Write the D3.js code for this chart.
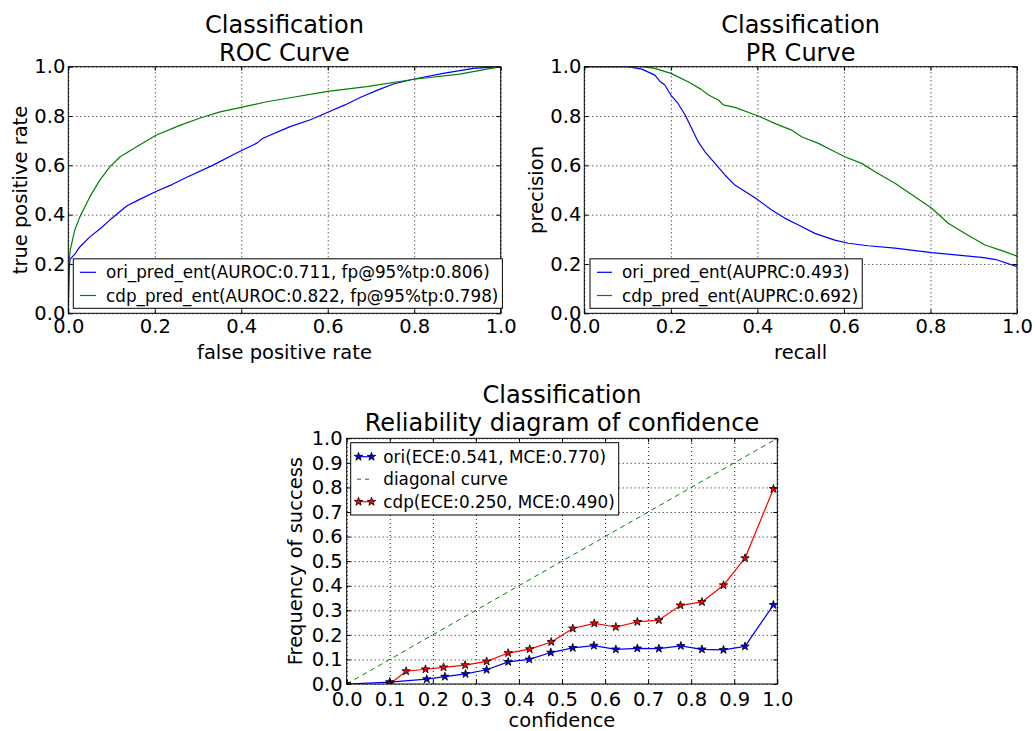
<!DOCTYPE html>
<html>
<head>
<meta charset="utf-8">
<script src="https://cdn.jsdelivr.net/npm/d3@7"></script>
<style>
  html, body { margin: 0; padding: 0; background: #fff; }
  svg { display: block; font-family: "DejaVu Sans", sans-serif; }
</style>
</head>
<body>
<svg id="chart" width="1035" height="731"></svg>
<script>
// ---------------- DATA ----------------
// ROC curve
const rocOriFpr = [0, 0.002, 0.004, 0.015, 0.027, 0.05, 0.075, 0.096, 0.135, 0.165, 0.204, 0.24, 0.274, 0.335, 0.389, 0.436, 0.45, 0.513, 0.56, 0.60, 0.64, 0.675, 0.715, 0.752, 0.80, 0.867, 0.937, 1.0];
const rocOriTpr = [0, 0.17, 0.219, 0.24, 0.27, 0.31, 0.345, 0.378, 0.435, 0.462, 0.495, 0.522, 0.552, 0.601, 0.65, 0.69, 0.71, 0.757, 0.785, 0.815, 0.845, 0.875, 0.905, 0.93, 0.95, 0.973, 0.993, 1.0];
const rocCdpFpr = [0, 0.001, 0.005, 0.015, 0.027, 0.05, 0.073, 0.096, 0.12, 0.158, 0.204, 0.258, 0.305, 0.351, 0.413, 0.459, 0.513, 0.60, 0.69, 0.80, 0.905, 1.0];
const rocCdpTpr = [0, 0.2, 0.26, 0.338, 0.392, 0.473, 0.54, 0.594, 0.635, 0.675, 0.723, 0.762, 0.792, 0.817, 0.84, 0.858, 0.874, 0.9, 0.919, 0.949, 0.97, 1.0];
const rocLabels = ["ori_pred_ent(AUROC:0.711, fp@95%tp:0.806)", "cdp_pred_ent(AUROC:0.822, fp@95%tp:0.798)"];

// PR curve
const prOriRecall = [0, 0.10, 0.133, 0.163, 0.175, 0.186, 0.2, 0.217, 0.233, 0.248, 0.263, 0.279, 0.302, 0.325, 0.348, 0.379, 0.402, 0.433, 0.464, 0.495, 0.533, 0.579, 0.61, 0.656, 0.718, 0.803, 0.918, 0.949, 1.0];
const prOriPrecision = [1, 1.0, 0.99, 0.966, 0.94, 0.926, 0.885, 0.85, 0.804, 0.75, 0.696, 0.655, 0.608, 0.561, 0.52, 0.486, 0.459, 0.419, 0.385, 0.358, 0.324, 0.297, 0.284, 0.274, 0.264, 0.246, 0.227, 0.219, 0.189];
const prCdpRecall = [0, 0.133, 0.163, 0.2, 0.24, 0.27, 0.287, 0.31, 0.321, 0.348, 0.402, 0.44, 0.479, 0.502, 0.541, 0.579, 0.602, 0.641, 0.672, 0.718, 0.764, 0.803, 0.841, 0.88, 0.926, 0.965, 1.0];
const prCdpPrecision = [1, 1, 0.993, 0.973, 0.939, 0.908, 0.885, 0.865, 0.845, 0.835, 0.8, 0.77, 0.743, 0.716, 0.689, 0.655, 0.635, 0.608, 0.574, 0.527, 0.473, 0.426, 0.365, 0.324, 0.277, 0.254, 0.232];
const prLabels = ["ori_pred_ent(AUPRC:0.493)", "cdp_pred_ent(AUPRC:0.692)"];

// Reliability diagram
const relOriConf = [0.0, 0.1, 0.186, 0.228, 0.276, 0.325, 0.375, 0.424, 0.474, 0.525, 0.574, 0.625, 0.675, 0.725, 0.776, 0.825, 0.875, 0.925, 0.991];
const relOriFreq = [0.0, 0.008, 0.02, 0.03, 0.041, 0.058, 0.09, 0.1, 0.128, 0.147, 0.156, 0.141, 0.145, 0.144, 0.155, 0.141, 0.139, 0.153, 0.322];
const relCdpConf = [0.1, 0.138, 0.183, 0.225, 0.275, 0.325, 0.375, 0.425, 0.475, 0.525, 0.575, 0.625, 0.675, 0.725, 0.775, 0.825, 0.875, 0.925, 0.991];
const relCdpFreq = [0.0, 0.052, 0.06, 0.068, 0.077, 0.092, 0.126, 0.142, 0.171, 0.226, 0.247, 0.232, 0.253, 0.26, 0.32, 0.334, 0.402, 0.512, 0.794];
const diagonal = [0, 1];
const relLabels = ["ori(ECE:0.541, MCE:0.770)", "diagonal curve", "cdp(ECE:0.250, MCE:0.490)"];

const ticks02 = [0, 0.2, 0.4, 0.6, 0.8, 1.0];
const ticks01 = [0, 0.1, 0.2, 0.3, 0.4, 0.5, 0.6, 0.7, 0.8, 0.9, 1.0];

// ---------------- DRAW ----------------
const svg = d3.select("#chart");
const FONT_TICK = 19.5, FONT_LABEL = 19.5, FONT_TITLE = 24, FONT_LEG = 16.8;
const BLUE = "#0000ff", GREEN = "#008000", RED = "#ff0000";
let clipId = 0;

function makePanel(o) {
  const g = svg.append("g").attr("transform", `translate(${o.left},${o.top})`);
  const x = d3.scaleLinear().domain([0, 1]).range([0, o.w]);
  const y = d3.scaleLinear().domain([0, 1]).range([o.h, 0]);

  // grid
  const gx = g.append("g").attr("transform", `translate(0,${o.h})`)
    .call(d3.axisBottom(x).tickValues(o.ticks).tickSize(-o.h).tickFormat(""));
  const gy = g.append("g")
    .call(d3.axisLeft(y).tickValues(o.ticks).tickSize(-o.w).tickFormat(""));
  [gx, gy].forEach(a => {
    a.select(".domain").remove();
    a.selectAll("line").attr("stroke", "#000").attr("stroke-width", 0.9).attr("stroke-dasharray", "1,3");
  });

  // clip
  const cid = "clip" + (clipId++);
  g.append("clipPath").attr("id", cid).append("rect").attr("width", o.w).attr("height", o.h);
  const plot = g.append("g").attr("clip-path", `url(#${cid})`);

  // frame
  g.append("rect").attr("width", o.w).attr("height", o.h).attr("fill", "none").attr("stroke", "#000").attr("stroke-width", 1);

  // axes (inward ticks)
  const fmt = d3.format(".1f");
  const ax = g.append("g").attr("transform", `translate(0,${o.h})`)
    .call(d3.axisBottom(x).tickValues(o.ticks).tickFormat(fmt).tickSizeInner(-4).tickSizeOuter(0).tickPadding(o.xpad));
  const ay = g.append("g")
    .call(d3.axisLeft(y).tickValues(o.ticks).tickFormat(fmt).tickSizeInner(-4).tickSizeOuter(0).tickPadding(o.ypad));
  const axT = g.append("g")
    .call(d3.axisTop(x).tickValues(o.ticks).tickFormat("").tickSizeInner(-4).tickSizeOuter(0));
  const ayR = g.append("g").attr("transform", `translate(${o.w},0)`)
    .call(d3.axisRight(y).tickValues(o.ticks).tickFormat("").tickSizeInner(-4).tickSizeOuter(0));
  [ax, ay, axT, ayR].forEach(a => {
    a.select(".domain").remove();
    a.selectAll("line").attr("stroke", "#000");
    a.selectAll("text").attr("font-size", FONT_TICK).attr("font-family", "DejaVu Sans").attr("fill", "#000");
  });

  // titles
  const t = g.append("text").attr("text-anchor", "middle").attr("font-size", FONT_TITLE).attr("fill", "#000");
  t.append("tspan").attr("x", o.w / 2).attr("y", o.t1 - o.top).text("Classification");
  t.append("tspan").attr("x", o.w / 2).attr("y", o.t2 - o.top).text(o.title);

  // axis labels
  g.append("text").attr("text-anchor", "middle").attr("font-size", FONT_LABEL)
    .attr("x", o.w / 2).attr("y", o.xlabY - o.top).text(o.xlabel);
  g.append("text").attr("text-anchor", "middle").attr("font-size", FONT_LABEL)
    .attr("transform", `translate(${o.ylabX - o.left},${o.h / 2}) rotate(-90)`).text(o.ylabel);

  return { g, plot, x, y };
}

function drawLine(p, xs, ys, color, width, dash) {
  const pts = xs.map((v, i) => [v, ys[i]]);
  const path = p.plot.append("path").datum(pts)
    .attr("fill", "none").attr("stroke", color).attr("stroke-width", width)
    .attr("stroke-linejoin", "round")
    .attr("d", d3.line().x(d => p.x(d[0])).y(d => p.y(d[1])));
  if (dash) path.attr("stroke-dasharray", dash);
  return pts;
}

const star = d3.symbol().type(d3.symbolStar).size(22);
function drawStars(p, pts, color) {
  p.plot.selectAll(null).data(pts).enter().append("path")
    .attr("d", star)
    .attr("transform", d => `translate(${p.x(d[0])},${p.y(d[1])})`)
    .attr("fill", color).attr("stroke", "#000").attr("stroke-width", 0.8);
}

function legend(p, o, items) {
  const lg = svg.append("g");
  const box = lg.append("rect").attr("fill", "#fff").attr("stroke", "#000").attr("stroke-width", 1);
  let maxEnd = 0;
  items.forEach((it, i) => {
    const cy = o.rows[i];
    lg.append("line").attr("x1", o.lx1).attr("x2", o.lx2).attr("y1", cy).attr("y2", cy)
      .attr("stroke", it.color).attr("stroke-width", it.width || 1.2)
      .attr("stroke-dasharray", it.dash || null);
    if (it.marker) {
      [o.lx1 + 1.5, o.lx2 - 1.5].forEach(mx => {
        lg.append("path").attr("d", star).attr("transform", `translate(${mx},${cy})`)
          .attr("fill", it.color).attr("stroke", "#000").attr("stroke-width", 0.8);
      });
    }
    const tx = lg.append("text").attr("x", o.tx).attr("y", cy).attr("dy", "0.36em")
      .attr("font-size", FONT_LEG).text(it.label);
    maxEnd = Math.max(maxEnd, o.tx + tx.node().getComputedTextLength());
  });
  box.attr("x", o.bx).attr("y", o.by).attr("width", maxEnd + 4 - o.bx).attr("height", o.bh);
}

// ROC panel
const roc = makePanel({ left: 68.3, top: 66.7, w: 432.4, h: 246.6, ticks: ticks02, xpad: 6, ypad: 3,
  title: "ROC Curve", t1: 33, t2: 60.7, xlabel: "false positive rate", xlabY: 359,
  ylabel: "true positive rate", ylabX: 26.5 });
drawLine(roc, rocOriFpr, rocOriTpr, BLUE, 1.2);
drawLine(roc, rocCdpFpr, rocCdpTpr, GREEN, 1.2);
legend(roc, { bx: 73.3, by: 258.8, bh: 49.5, rows: [272.3, 295.5], lx1: 80, lx2: 96, tx: 106 },
  [{ color: BLUE, label: rocLabels[0] }, { color: GREEN, label: rocLabels[1] }]);

// PR panel
const pr = makePanel({ left: 584.3, top: 66.7, w: 432.7, h: 246.6, ticks: ticks02, xpad: 6, ypad: 3,
  title: "PR Curve", t1: 33, t2: 60.7, xlabel: "recall", xlabY: 359,
  ylabel: "precision", ylabX: 542.5 });
drawLine(pr, prOriRecall, prOriPrecision, BLUE, 1.2);
drawLine(pr, prCdpRecall, prCdpPrecision, GREEN, 1.2);
legend(pr, { bx: 590, by: 258.8, bh: 49.5, rows: [272.3, 295.5], lx1: 597, lx2: 612, tx: 622 },
  [{ color: BLUE, label: prLabels[0] }, { color: GREEN, label: prLabels[1] }]);

// Reliability panel
const rel = makePanel({ left: 346.7, top: 438.3, w: 430.6, h: 245.7, ticks: ticks01, xpad: 8.5, ypad: 4,
  title: "Reliability diagram of confidence", t1: 403.3, t2: 430.7, xlabel: "confidence", xlabY: 727,
  ylabel: "Frequency of success", ylabX: 302 });
const oriPts = drawLine(rel, relOriConf, relOriFreq, BLUE, 1.2);
drawLine(rel, diagonal, diagonal, GREEN, 1, "5,4");
const cdpPts = drawLine(rel, relCdpConf, relCdpFreq, RED, 1.2);
drawStars(rel, oriPts, BLUE);
drawStars(rel, cdpPts, RED);
legend(rel, { bx: 350.7, by: 442.7, bh: 72.3, rows: [456.7, 479.2, 501.7], lx1: 357, lx2: 373, tx: 383.3 },
  [{ color: BLUE, label: relLabels[0], marker: true, width: 1.2 },
   { color: GREEN, label: relLabels[1], dash: "4,4", width: 1 },
   { color: RED, label: relLabels[2], marker: true, width: 1.2 }]);
</script>
</body>
</html>
